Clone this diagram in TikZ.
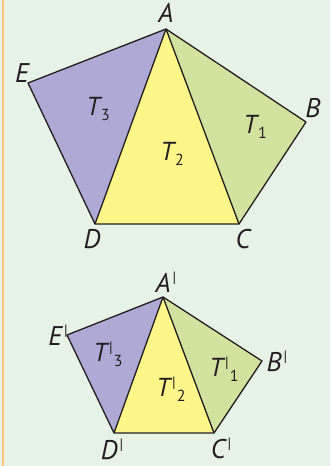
\documentclass[tikz,border=0pt]{standalone}
\usepackage{fontspec}
\setmainfont{PT Sans}
\definecolor{bg}{HTML}{E8F3E8}
\definecolor{orng}{HTML}{FBC47F}
\definecolor{purp}{HTML}{AEA9D5}
\definecolor{yell}{HTML}{FFF68A}
\definecolor{grn}{HTML}{D1E39F}
\definecolor{linec}{HTML}{231F20}
\newcommand{\pbar}{\hspace{2pt}\raisebox{0.75ex}{\fontsize{15}{15}\selectfont\upshape |}}
\newcommand{\sub}[1]{\hspace{1pt}\raisebox{-0.35ex}{\fontsize{16}{16}\selectfont\upshape #1}}
\begin{document}
\begin{tikzpicture}[x=1pt,y=-1pt,
  edge/.style={draw=linec,line width=1.3pt,line join=round},
  lab/.style={font=\fontsize{27}{27}\selectfont\itshape,text=linec,inner sep=0pt},
  tlab/.style={font=\fontsize{26}{26}\selectfont\itshape,text=linec,inner sep=0pt}]
\fill[bg] (0,0) rectangle (330,466);
\useasboundingbox (0,0) rectangle (330,466);
\fill[orng] (2,0) rectangle (4.2,466);
% top pentagon
\coordinate (A) at (166,29);
\coordinate (B) at (306,122);
\coordinate (C) at (239,224);
\coordinate (D) at (95,224);
\coordinate (E) at (28,83);
\fill[purp] (A) -- (E) -- (D) -- cycle;
\fill[yell] (A) -- (D) -- (C) -- cycle;
\fill[grn] (A) -- (C) -- (B) -- cycle;
\draw[edge] (A) -- (B) -- (C) -- (D) -- (E) -- cycle;
\draw[edge] (A) -- (D);
\draw[edge] (A) -- (C);
\node[lab] (lA) at (166,13) {A};
\node[lab] (lB) at (313,108) {B};
\node[lab] (lC) at (243,239) {C};
\node[lab] (lD) at (92,239) {D};
\node[lab] (lE) at (22,73) {E};
\node[tlab] (t3) at (98,109) {T\sub{3}};
\node[tlab] (t2) at (172,154) {T\sub{2}};
\node[tlab] (t1) at (255,127) {T\sub{1}};
% bottom pentagon
\coordinate (A2) at (163,297);
\coordinate (B2) at (262,361);
\coordinate (C2) at (214,433);
\coordinate (D2) at (114,433);
\coordinate (E2) at (67,335);
\fill[purp] (A2) -- (E2) -- (D2) -- cycle;
\fill[yell] (A2) -- (D2) -- (C2) -- cycle;
\fill[grn] (A2) -- (C2) -- (B2) -- cycle;
\draw[edge] (A2) -- (B2) -- (C2) -- (D2) -- (E2) -- cycle;
\draw[edge] (A2) -- (D2);
\draw[edge] (A2) -- (C2);
\node[lab] (lA2) at (166,282) {A\pbar};
\node[lab] (lB2) at (277,361) {B\pbar};
\node[lab] (lC2) at (221,448) {C\pbar};
\node[lab] (lD2) at (112,449) {D\pbar};
\node[lab] (lE2) at (58,335) {E\pbar};
\node[tlab] (u3) at (108,354) {T\pbar\sub{3}};
\node[tlab] (u2) at (171,389) {T\pbar\sub{2}};
\node[tlab] (u1) at (224,369) {T\pbar\sub{1}};
\end{tikzpicture}
\end{document}
